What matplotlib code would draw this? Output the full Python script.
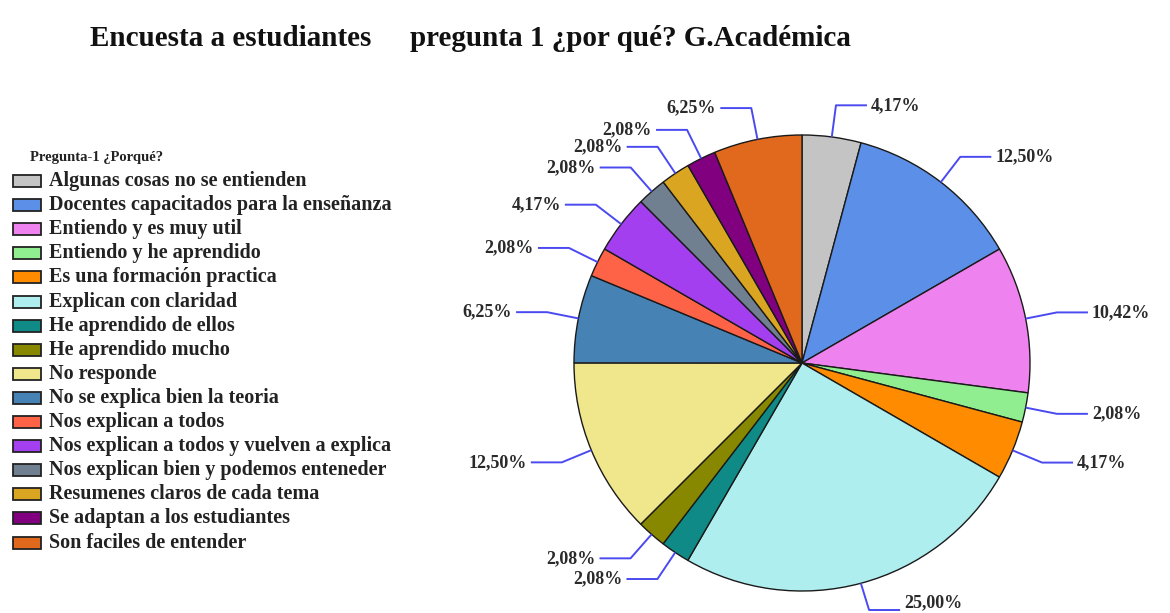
import numpy as np
import matplotlib
matplotlib.use("Agg")
import matplotlib.pyplot as plt
from matplotlib.patches import Rectangle

# ---- data ----
categories = [
    "Algunas cosas no se entienden",
    "Docentes capacitados para la enseñanza",
    "Entiendo y es muy util",
    "Entiendo y he aprendido",
    "Es una formación practica",
    "Explican con claridad",
    "He aprendido de ellos",
    "He aprendido mucho",
    "No responde",
    "No se explica bien la teoria",
    "Nos explican a todos",
    "Nos explican a todos y vuelven a explica",
    "Nos explican bien y podemos enteneder",
    "Resumenes claros de cada tema",
    "Se adaptan a los estudiantes",
    "Son faciles de entender",
]
percentages = [4.17, 12.50, 10.42, 2.08, 4.17, 25.00, 2.08, 2.08,
               12.50, 6.25, 2.08, 4.17, 2.08, 2.08, 2.08, 6.25]
colors = ['#c4c4c4', '#5b8fe8', '#ee82ee', '#90ee90', '#ff8c00', '#afeeee',
          '#0f8a86', '#888800', '#f0e68c', '#4682b4', '#ff6347', '#a43ff0',
          '#708090', '#daa520', '#800080', '#e0691e']
title_left = "Encuesta a estudiantes"
title_right = "pregunta 1 ¿por qué? G.Académica"
legend_title = "Pregunta-1 ¿Porqué?"

W, H = 1170, 613
SERIF = ['Liberation Serif', 'DejaVu Serif']

fig = plt.figure(figsize=(W / 100, H / 100), dpi=100)
ax = fig.add_axes([0, 0, 1, 1])

cx, cy, R = 802, H - 363, 228
wedges, _ = ax.pie(percentages, colors=colors, startangle=90, counterclock=False,
                   center=(cx, cy), radius=R, frame=True,
                   wedgeprops=dict(edgecolor='#1a1a1a', linewidth=1.0))
ax.set_xlim(0, W)
ax.set_ylim(0, H)
ax.set_aspect('auto')
ax.axis('off')

lead_color = '#4a4af0'
for w, v in zip(wedges, percentages):
    mid = np.deg2rad((w.theta1 + w.theta2) / 2)
    c, s = np.cos(mid), np.sin(mid)
    p0 = (cx + R * c, cy + R * s)
    p1 = (cx + 1.14 * R * c, max(cy + 1.14 * R * s, 3))
    sign = 1 if c >= 0 else -1
    p2 = (p1[0] + sign * 31, p1[1])
    ax.plot([p0[0], p1[0], p2[0]], [p0[1], p1[1], p2[1]], color=lead_color,
            lw=1.4, solid_capstyle='butt')
    lbl = f"{v:.2f}".replace('.', ',') + "%"
    ax.text(p2[0] + sign * 4, max(p2[1], 10), lbl,
            ha='left' if sign > 0 else 'right',
            va='center', fontsize=13, fontweight='bold', family=SERIF,
            color='#2a2a2a')

# ---- titles ----
fig.text(90 / W, 1 - 38 / H, title_left, ha='left', va='center', fontsize=21,
         fontweight='bold', family=SERIF, color='#111111')
fig.text(410 / W, 1 - 38 / H, title_right, ha='left', va='center', fontsize=21,
         fontweight='bold', family=SERIF, color='#111111')

# ---- legend ----
ax.text(30, H - 157, legend_title, ha='left', va='center', fontsize=10.5,
        fontweight='bold', family=SERIF, color='#222222')
y0, step = H - 181, 24.1
for i, (lab, col) in enumerate(zip(categories, colors)):
    y = y0 - i * step
    ax.add_patch(Rectangle((13, y - 6), 28, 12, facecolor=col,
                           edgecolor='#222222', lw=1.3))
    ax.text(49, y, lab, ha='left', va='center', fontsize=14.5,
            fontweight='bold', family=SERIF, color='#222222')

fig.savefig("out.png", dpi=100)
